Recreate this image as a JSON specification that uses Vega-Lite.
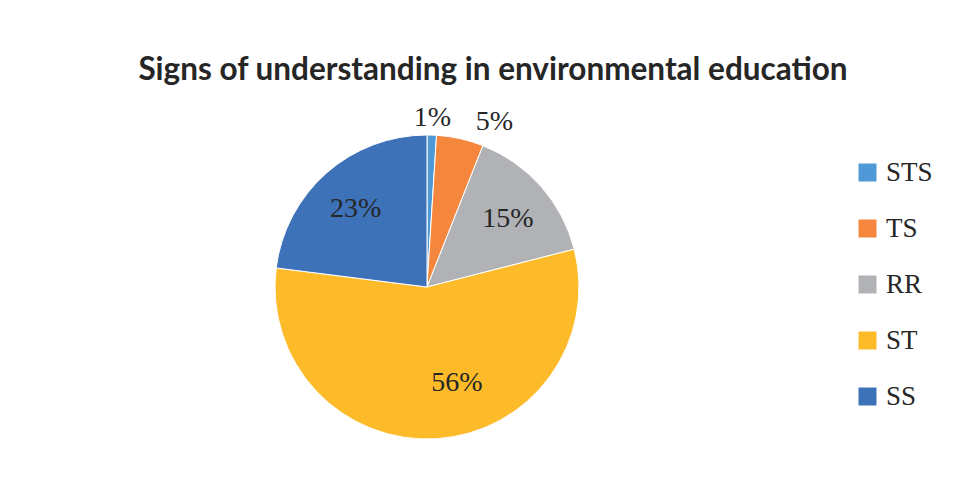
{
  "$schema": "https://vega.github.io/schema/vega-lite/v6.json",
  "width": 854,
  "height": 380,
  "padding": {"top": 55, "left": 0, "right": 0, "bottom": 0},
  "background": "white",
  "title": {
    "text": "Signs of understanding in environmental education",
    "font": "Lato",
    "fontWeight": "bold",
    "fontSize": 31.5,
    "color": "#262626",
    "anchor": "middle",
    "dx": 66,
    "offset": 10.5
  },
  "data": {
    "values": [
      {"category": "STS", "value": 1, "label": "1%", "rank": 1},
      {"category": "TS", "value": 5, "label": "5%", "rank": 2},
      {"category": "RR", "value": 15, "label": "15%", "rank": 3},
      {"category": "ST", "value": 56, "label": "56%", "rank": 4},
      {"category": "SS", "value": 23, "label": "23%", "rank": 5}
    ]
  },
  "encoding": {
    "theta": {"field": "value", "type": "quantitative", "stack": true},
    "order": {"field": "rank", "type": "quantitative"},
    "text": {"field": "label"}
  },
  "layer": [
    {
      "mark": {"type": "arc", "outerRadius": 152, "stroke": "white", "strokeWidth": 1},
      "encoding": {
        "color": {
          "field": "category",
          "type": "nominal",
          "scale": {
            "domain": ["STS", "TS", "RR", "ST", "SS"],
            "range": ["#4F9AD6", "#F4863E", "#B1B2B5", "#FDBB29", "#3E72B8"]
          },
          "legend": {
            "title": null,
            "orient": "none",
            "legendX": 854,
            "legendY": 62,
            "symbolType": "square",
            "symbolSize": 324,
            "symbolStrokeWidth": 0,
            "labelFont": "Liberation Serif",
            "labelFontSize": 27,
            "labelColor": "#262626",
            "labelOffset": 5,
            "rowPadding": 28,
            "padding": 0
          }
        }
      }
    },
    {
      "mark": {"type": "text", "radius": 108, "dy": 3, "font": "Liberation Serif", "fontSize": 28, "color": "#262626", "align": "center", "baseline": "middle"},
      "encoding": {
        "opacity": {"condition": {"test": "datum.category == 'RR' || datum.category == 'SS'", "value": 1}, "value": 0}
      }
    },
    {
      "mark": {"type": "text", "radius": 108, "dx": 23, "dy": -12, "font": "Liberation Serif", "fontSize": 28, "color": "#262626", "align": "center", "baseline": "middle"},
      "encoding": {
        "opacity": {"condition": {"test": "datum.category == 'ST'", "value": 1}, "value": 0}
      }
    },
    {
      "mark": {"type": "text", "radius": 169, "font": "Liberation Serif", "fontSize": 28, "color": "#262626", "align": "center", "baseline": "middle"},
      "encoding": {
        "opacity": {"condition": {"test": "datum.category == 'STS'", "value": 1}, "value": 0}
      }
    },
    {
      "mark": {"type": "text", "radius": 172, "dx": 30, "dy": 3, "font": "Liberation Serif", "fontSize": 28, "color": "#262626", "align": "center", "baseline": "middle"},
      "encoding": {
        "opacity": {"condition": {"test": "datum.category == 'TS'", "value": 1}, "value": 0}
      }
    }
  ],
  "config": {"view": {"stroke": null}}
}
